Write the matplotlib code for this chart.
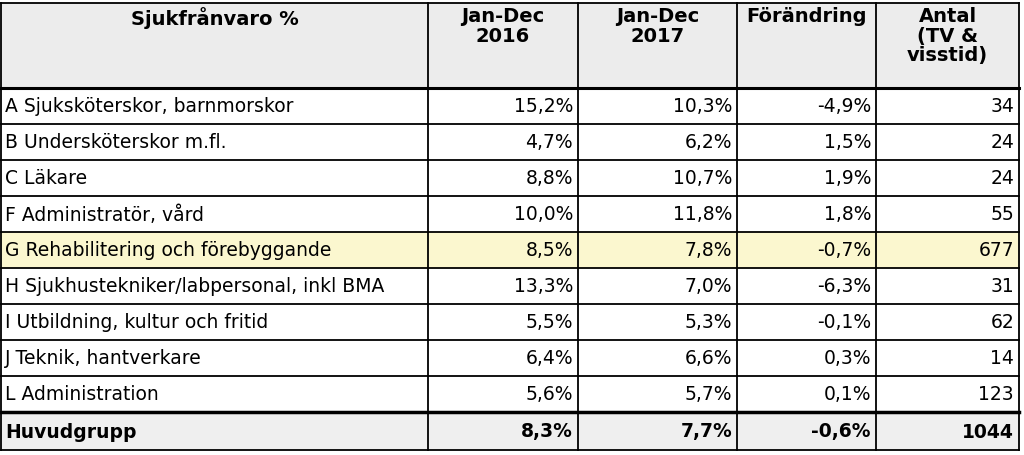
import matplotlib.pyplot as plt
from matplotlib.patches import Rectangle

headers = ["Sjukfrånvaro %", "Jan-Dec\n2016", "Jan-Dec\n2017", "Förändring", "Antal\n(TV &\nvisstid)"]
categories = [
    "A Sjuksköterskor, barnmorskor",
    "B Undersköterskor m.fl.",
    "C Läkare",
    "F Administratör, vård",
    "G Rehabilitering och förebyggande",
    "H Sjukhustekniker/labpersonal, inkl BMA",
    "I Utbildning, kultur och fritid",
    "J Teknik, hantverkare",
    "L Administration",
]
y2016 = ["15,2%", "4,7%", "8,8%", "10,0%", "8,5%", "13,3%", "5,5%", "6,4%", "5,6%"]
y2017 = ["10,3%", "6,2%", "10,7%", "11,8%", "7,8%", "7,0%", "5,3%", "6,6%", "5,7%"]
change = ["-4,9%", "1,5%", "1,9%", "1,8%", "-0,7%", "-6,3%", "-0,1%", "0,3%", "0,1%"]
count = ["34", "24", "24", "55", "677", "31", "62", "14", "123"]
total = ["Huvudgrupp", "8,3%", "7,7%", "-0,6%", "1044"]
highlight_row = 4

col_x = [1, 428, 578, 737, 876, 1019]
header_top, header_bot = 3, 88
row_h = 36.0
font = "DejaVu Sans"
fs = 13.5

fig = plt.figure(figsize=(10.24, 4.55), dpi=100)
ax = fig.add_axes([0, 0, 1, 1])
ax.set_xlim(0, 1024)
ax.set_ylim(455, 0)
ax.set_axis_off()

# backgrounds
ax.add_patch(Rectangle((col_x[0], header_top), col_x[-1] - col_x[0], header_bot - header_top,
                       facecolor="#ececec", edgecolor="none"))
hy = header_bot + highlight_row * row_h
ax.add_patch(Rectangle((col_x[0], hy), col_x[-1] - col_x[0], row_h, facecolor="#fbf7cf", edgecolor="none"))
total_top = header_bot + len(categories) * row_h
ax.add_patch(Rectangle((col_x[0], total_top), col_x[-1] - col_x[0], row_h + 2,
                       facecolor="#efefef", edgecolor="none"))
bottom = total_top + row_h + 2

# header text
for i, h in enumerate(headers):
    cx = (col_x[i] + col_x[i + 1]) / 2
    ax.text(cx, header_top + 4, h, ha="center", va="top", fontsize=14,
            fontweight="bold", family=font, linespacing=1.05)

# body rows
for r, cat in enumerate(categories):
    cy = header_bot + r * row_h + row_h / 2 + 1
    ax.text(col_x[0] + 4, cy, cat, ha="left", va="center", fontsize=fs, family=font)
    for c, vals in enumerate([y2016, y2017, change, count]):
        ax.text(col_x[c + 2] - 5, cy, vals[r], ha="right", va="center", fontsize=fs, family=font)

cy = total_top + row_h / 2 + 2
ax.text(col_x[0] + 4, cy, total[0], ha="left", va="center", fontsize=fs, family=font, fontweight="bold")
for c in range(1, 5):
    ax.text(col_x[c + 1] - 5, cy, total[c], ha="right", va="center", fontsize=fs,
            family=font, fontweight="bold")

# grid lines
for x in col_x:
    ax.plot([x, x], [header_top, bottom], color="black", lw=1.3)
ax.plot([col_x[0], col_x[-1]], [header_top, header_top], color="black", lw=1.3)
ax.plot([col_x[0], col_x[-1]], [header_bot, header_bot], color="black", lw=2.2)
for r in range(1, len(categories)):
    y = header_bot + r * row_h
    ax.plot([col_x[0], col_x[-1]], [y, y], color="black", lw=1.3)
ax.plot([col_x[0], col_x[-1]], [total_top, total_top], color="black", lw=2.5)
ax.plot([col_x[0], col_x[-1]], [bottom, bottom], color="black", lw=1.3)

fig.savefig("out.png", dpi=100)
